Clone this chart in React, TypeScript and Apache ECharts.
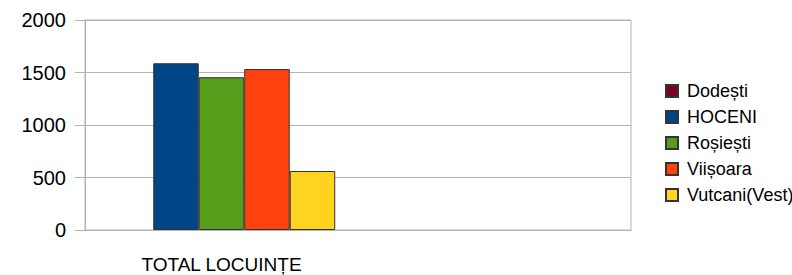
import React, { useEffect, useRef } from "react";
import * as echarts from "echarts";

const categories = ["TOTAL LOCUINȚE", ""];
const seriesNames = ["Dodești", "HOCENI", "Roșiești", "Viișoara", "Vutcani(Vest)"];
const dodesti = [0, null];
const hoceni = [1588, null];
const rosiesti = [1455, null];
const viisoara = [1533, null];
const vutcani = [562, null];
const colors = ["#7e0021", "#004586", "#579d1c", "#ff420e", "#ffd320"];
const yTicks = { min: 0, max: 2000, interval: 500 };

export default function App() {
  const ref = useRef<HTMLDivElement>(null);
  useEffect(() => {
    if (!ref.current) return;
    const chart = echarts.init(ref.current, null, { renderer: "svg" });
    const font = "'Liberation Sans', Arial, sans-serif";
    const values = [dodesti, hoceni, rosiesti, viisoara, vutcani];
    chart.setOption({
      animation: false,
      textStyle: { fontFamily: font },
      grid: {
        left: 85,
        right: 161,
        top: 20,
        bottom: 45,
        show: true,
        borderColor: "#b3b3b3",
        borderWidth: 1,
        backgroundColor: "transparent",
      },
      legend: {
        orient: "vertical",
        left: 660,
        top: 77,
        itemWidth: 12,
        itemHeight: 12,
        itemGap: 8,
        icon: "rect",
        textStyle: { fontSize: 18, color: "#000", fontFamily: font, padding: [0, 0, 0, 4] },
        data: seriesNames,
      },
      xAxis: {
        type: "category",
        data: categories,
        axisLine: { lineStyle: { color: "#b3b3b3" } },
        axisTick: { alignWithLabel: true, length: 11, lineStyle: { color: "#b3b3b3" } },
        axisLabel: { color: "#000", fontSize: 19, margin: 25, fontFamily: font },
        splitLine: { show: false },
      },
      yAxis: {
        type: "value",
        min: yTicks.min,
        max: yTicks.max,
        interval: yTicks.interval,
        axisLine: { show: true, lineStyle: { color: "#b3b3b3" } },
        axisTick: { show: true, length: 10, lineStyle: { color: "#b3b3b3" } },
        axisLabel: {
          color: "#000",
          fontSize: 20,
          margin: 19,
          fontFamily: font,
          formatter: (v: number) => String(v),
        },
        splitLine: { lineStyle: { color: "#b3b3b3" } },
      },
      series: seriesNames.map((name, i) => ({
        name,
        type: "bar",
        data: values[i].map((v) =>
          v === 0 ? { value: v, itemStyle: { borderWidth: 0 } } : v
        ),
        barGap: 0,
        barCategoryGap: "16.67%",
        itemStyle: { color: colors[i], borderColor: "#333", borderWidth: 1 },
      })),
    });
    return () => chart.dispose();
  }, []);
  return <div ref={ref} style={{ width: 792, height: 275, position: "absolute", left: 0, top: 0 }} />;
}
